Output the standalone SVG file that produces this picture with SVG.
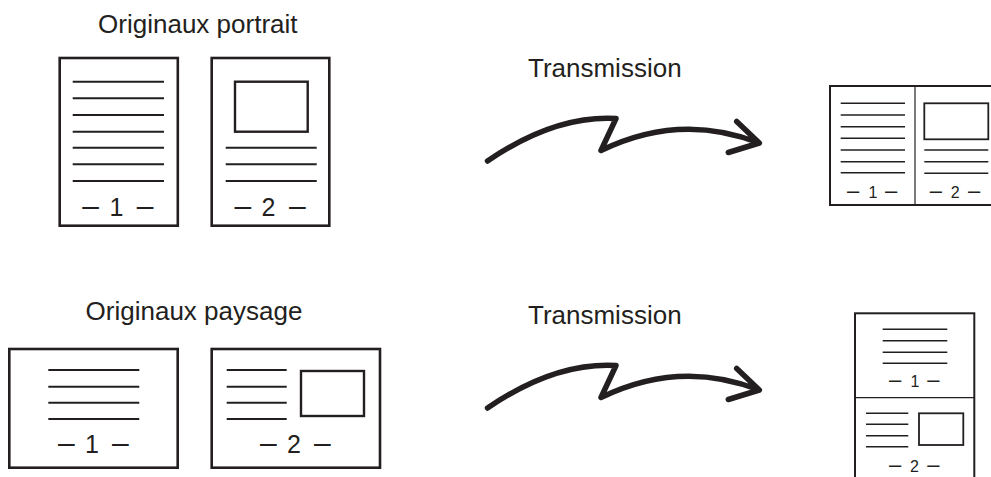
<svg xmlns="http://www.w3.org/2000/svg" width="991" height="477" viewBox="0 0 991 477">
<style>
  .title { font-family: "Liberation Sans", Arial, Helvetica, sans-serif; font-size: 26px; fill: #231f20; text-anchor: middle; }
  .num { font-family: "Liberation Sans", Arial, Helvetica, sans-serif; fill: #231f20; }
  .d { font-size: 30px; }
  .n { font-size: 25px; }
  .ds { font-size: 22px; }
  .ns { font-size: 16px; }
  .page { fill: #fff; stroke: #231f20; stroke-width: 2.6; }
  .pageS { fill: #fff; stroke: #231f20; stroke-width: 2; }
  .ln { stroke: #231f20; stroke-width: 2; fill: none; }
  .lnS { stroke: #231f20; stroke-width: 1.6; fill: none; }
  .box { fill: none; stroke: #231f20; stroke-width: 2.4; }
  .boxS { fill: none; stroke: #231f20; stroke-width: 1.8; }
  .div { stroke: #231f20; stroke-width: 1.2; }
  .arrow { fill: none; stroke: #231f20; stroke-width: 5.5; stroke-linecap: round; stroke-linejoin: round; }
</style>

<g id="labels">
  <text class="title" x="197.8" y="33.3">Originaux portrait</text>
  <text class="title" x="194" y="320">Originaux paysage</text>
  <text class="title" x="604.8" y="77.3">Transmission</text>
  <text class="title" x="604.8" y="323.5">Transmission</text>
</g>

<g id="page-portrait-1">
  <rect class="page" x="59.7" y="58" width="118.1" height="167.7"/>
  <line class="ln" x1="72.7" x2="164" y1="81.7" y2="81.7"/>
  <line class="ln" x1="72.7" x2="164" y1="98.3" y2="98.3"/>
  <line class="ln" x1="72.7" x2="164" y1="115" y2="115"/>
  <line class="ln" x1="72.7" x2="164" y1="131.7" y2="131.7"/>
  <line class="ln" x1="72.7" x2="164" y1="147.7" y2="147.7"/>
  <line class="ln" x1="72.7" x2="164" y1="164.3" y2="164.3"/>
  <line class="ln" x1="72.7" x2="164" y1="181" y2="181"/>
  <text class="num" y="216"><tspan class="d" x="82.3">–</tspan><tspan class="n" x="109.6">1</tspan><tspan class="d" x="136.7">–</tspan></text>
</g>

<g id="page-portrait-2">
  <rect class="page" x="211.7" y="58" width="117.6" height="167.7"/>
  <rect class="box" x="235" y="81.7" width="72.7" height="50"/>
  <line class="ln" x1="225.7" x2="316.7" y1="147.7" y2="147.7"/>
  <line class="ln" x1="225.7" x2="316.7" y1="164.3" y2="164.3"/>
  <line class="ln" x1="225.7" x2="316.7" y1="181" y2="181"/>
  <text class="num" y="216"><tspan class="d" x="234.5">–</tspan><tspan class="n" x="261.6">2</tspan><tspan class="d" x="289">–</tspan></text>
</g>

<g id="page-landscape-1">
  <rect class="page" x="9.3" y="349" width="168.4" height="118.7"/>
  <line class="ln" x1="48.3" x2="139.3" y1="370" y2="370"/>
  <line class="ln" x1="48.3" x2="139.3" y1="386.7" y2="386.7"/>
  <line class="ln" x1="48.3" x2="139.3" y1="402.7" y2="402.7"/>
  <line class="ln" x1="48.3" x2="139.3" y1="419" y2="419"/>
  <text class="num" y="452.7"><tspan class="d" x="58">–</tspan><tspan class="n" x="85">1</tspan><tspan class="d" x="112">–</tspan></text>
</g>

<g id="page-landscape-2">
  <rect class="page" x="211.7" y="349" width="168.3" height="118.7"/>
  <line class="ln" x1="226.7" x2="286.7" y1="370" y2="370"/>
  <line class="ln" x1="226.7" x2="286.7" y1="386.7" y2="386.7"/>
  <line class="ln" x1="226.7" x2="286.7" y1="402.7" y2="402.7"/>
  <line class="ln" x1="226.7" x2="286.7" y1="419" y2="419"/>
  <rect class="box" x="301" y="371" width="63" height="45"/>
  <text class="num" y="452.7"><tspan class="d" x="260">–</tspan><tspan class="n" x="287">2</tspan><tspan class="d" x="314">–</tspan></text>
</g>

<g id="connectors">
  <path class="arrow" d="M487.5,161 Q555,115 616,118.5 L601,150.5 Q680,112 759.3,143 M736.7,121.5 L759.3,143 L728.3,152.5"/>
  <path class="arrow" d="M487.5,408 Q555,362 616,365.5 L601,397.5 Q680,359 759.3,390 M736.7,368.5 L759.3,390 L728.3,399.5"/>
</g>

<g id="result-portrait">
  <rect class="pageS" x="830" y="86" width="170" height="119"/>
  <line class="div" x1="915" x2="915" y1="86" y2="205"/>
  <line class="lnS" x1="840.7" x2="905" y1="103.3" y2="103.3"/>
  <line class="lnS" x1="840.7" x2="905" y1="115" y2="115"/>
  <line class="lnS" x1="840.7" x2="905" y1="126.7" y2="126.7"/>
  <line class="lnS" x1="840.7" x2="905" y1="138.3" y2="138.3"/>
  <line class="lnS" x1="840.7" x2="905" y1="150" y2="150"/>
  <line class="lnS" x1="840.7" x2="905" y1="161.7" y2="161.7"/>
  <line class="lnS" x1="840.7" x2="905" y1="172.7" y2="172.7"/>
  <text class="num" y="198"><tspan class="ds" x="847">–</tspan><tspan class="ns" x="868.4">1</tspan><tspan class="ds" x="885">–</tspan></text>
  <rect class="boxS" x="924.3" y="103.3" width="64" height="36"/>
  <line class="lnS" x1="924.3" x2="988.3" y1="150" y2="150"/>
  <line class="lnS" x1="924.3" x2="988.3" y1="161.7" y2="161.7"/>
  <line class="lnS" x1="924.3" x2="988.3" y1="173.3" y2="173.3"/>
  <text class="num" y="198"><tspan class="ds" x="929.7">–</tspan><tspan class="ns" x="950.7">2</tspan><tspan class="ds" x="968">–</tspan></text>
</g>

<g id="result-landscape">
  <rect class="pageS" x="855" y="313.3" width="119.3" height="170"/>
  <line class="div" x1="855" x2="974.3" y1="397.7" y2="397.7"/>
  <line class="lnS" x1="882.7" x2="947.3" y1="329.3" y2="329.3"/>
  <line class="lnS" x1="882.7" x2="947.3" y1="340.7" y2="340.7"/>
  <line class="lnS" x1="882.7" x2="947.3" y1="352.3" y2="352.3"/>
  <line class="lnS" x1="882.7" x2="947.3" y1="363.3" y2="363.3"/>
  <text class="num" y="386.5"><tspan class="ds" x="889">–</tspan><tspan class="ns" x="910.4">1</tspan><tspan class="ds" x="927.3">–</tspan></text>
  <line class="lnS" x1="866" x2="908.3" y1="413.3" y2="413.3"/>
  <line class="lnS" x1="866" x2="908.3" y1="424.3" y2="424.3"/>
  <line class="lnS" x1="866" x2="908.3" y1="435.7" y2="435.7"/>
  <line class="lnS" x1="866" x2="908.3" y1="446.7" y2="446.7"/>
  <rect class="boxS" x="919" y="413.3" width="44.3" height="31.7"/>
  <text class="num" y="472"><tspan class="ds" x="889">–</tspan><tspan class="ns" x="910">2</tspan><tspan class="ds" x="927.3">–</tspan></text>
</g>
</svg>
